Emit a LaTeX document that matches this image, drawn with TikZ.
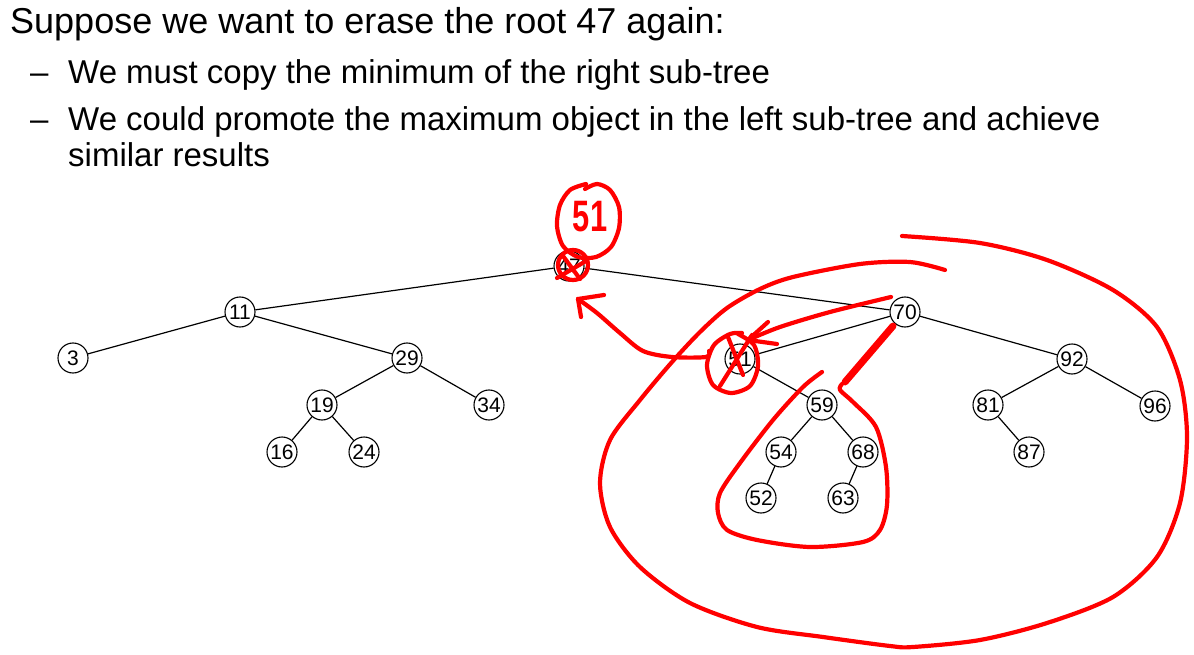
\documentclass[tikz,border=0pt]{standalone}
\usepackage{fontspec}
\setmainfont{Liberation Sans}
\begin{document}
\begin{tikzpicture}[x=1pt,y=-1pt,
  tnode/.style={circle,draw,line width=1.1pt,minimum size=30pt,inner sep=0pt,fill=white,font=\fontsize{21}{21}\selectfont},
  edge/.style={line width=1.2pt},
  titletext/.style={anchor=base west,inner sep=0pt,font=\fontsize{36}{36}\selectfont},
  bullettext/.style={anchor=base west,inner sep=0pt,font=\fontsize{33}{33}\selectfont},
  ink/.style={draw=red,line width=4.2pt,line cap=round,line join=round},
  thickink/.style={draw=red,line width=7pt,line cap=round}]
\useasboundingbox (0,0) rectangle (1194,655);
\fill[white] (0,0) rectangle (1194,655);
% text
\node[titletext] (t1) at (10,34) {Suppose we want to erase the root 47 again:};
\node[bullettext] (d1) at (30,84) {–};
\node[bullettext] (t2) at (68,84) {We must copy the minimum of the right sub-tree};
\node[bullettext] (d2) at (30,131) {–};
\node[bullettext] (t3) at (68,131) {We could promote the maximum object in the left sub-tree and achieve};
\node[bullettext] (t4) at (68,167) {similar results};
% tree nodes
\node[tnode] (n47) at (569,266) {47};
\node[tnode] (n11) at (240,312) {11};
\node[tnode] (n3) at (73,358) {3};
\node[tnode] (n29) at (407,358) {29};
\node[tnode] (n19) at (322,405) {19};
\node[tnode] (n34) at (489,405) {34};
\node[tnode] (n16) at (282,452) {16};
\node[tnode] (n24) at (364,452) {24};
\node[tnode] (n70) at (905,312) {70};
\node[tnode] (n51) at (740,359) {51};
\node[tnode] (n59) at (822,405) {59};
\node[tnode] (n54) at (781,452) {54};
\node[tnode] (n68) at (863,452) {68};
\node[tnode] (n52) at (761,498) {52};
\node[tnode] (n63) at (843,498) {63};
\node[tnode] (n92) at (1072,359) {92};
\node[tnode] (n81) at (988,405) {81};
\node[tnode] (n96) at (1155,406) {96};
\node[tnode] (n87) at (1029,452) {87};
% edges
\foreach \a/\b in {n47/n11,n47/n70,n11/n3,n11/n29,n29/n19,n29/n34,n19/n16,n19/n24,
  n70/n51,n70/n92,n51/n59,n59/n54,n59/n68,n54/n52,n68/n63,n92/n81,n92/n96,n81/n87}
  \draw[edge] (\a) -- (\b);
% red annotations
\node[text=red,inner sep=0pt,font=\bfseries\fontsize{44}{44}\selectfont] (h51) at (590,217) {\scalebox{0.7}[1]{51}};
\draw[ink] plot[smooth] coordinates {(585,189) (597,184) (610,190) (619,207) (619,228) (611,247) (596,257) (578,257) (563,246) (557,226) (560,205) (570,190) (586,184)};
% circle and cross over 47
\draw[ink] (573,265) circle[radius=15];
\draw[ink] (557,278) -- (586,261);
\draw[ink] (563,256) -- (580,279);
% arrow 51 -> root
\draw[ink] plot[smooth] coordinates {(709,351) (706,357) (672,357) (643,351) (620,333) (597,313) (578,299)};
\draw[ink] (578,299) -- (604,295);
\draw[ink] (578,299) -- (581,317);
% circle and cross over 51
\draw[ink] plot[smooth] coordinates {(738,334) (754,345) (758,366) (750,386) (731,393) (713,385) (707,365) (714,345) (730,334) (742,333)};
\draw[ink] (728,337) -- (743,375);
\draw[ink] (752,335) -- (720,386);
% arrow 70 -> 51
\draw[ink] plot[smooth] coordinates {(891,297) (830,312) (780,327) (748,340)};
\draw[ink] (748,340) -- (768,322);
\draw[ink] (748,340) -- (777,344);
% thick stroke
\draw[thickink] (893,326) -- (845,382);
% small loop
\draw[ink] plot[smooth] coordinates {(822,372) (803,387) (773,420) (740,463) (720,493) (718,513) (727,530) (757,540) (810,547) (863,542) (880,530) (887,505) (886,467) (876,427) (853,402) (840,390) (842,384)};
% big loop
\draw[ink] plot[smooth] coordinates {(902,236) (980,243) (1047,260) (1113,290) (1157,327) (1180,380) (1187,437) (1180,503) (1157,557) (1113,597) (1047,623) (980,640) (913,647) (890,646) (823,637) (757,627) (690,603) (640,567) (610,527) (600,483) (610,440) (640,400) (672,362) (700,332) (727,308) (760,289) (793,277) (860,264) (910,262) (945,270)};
\end{tikzpicture}
\end{document}
